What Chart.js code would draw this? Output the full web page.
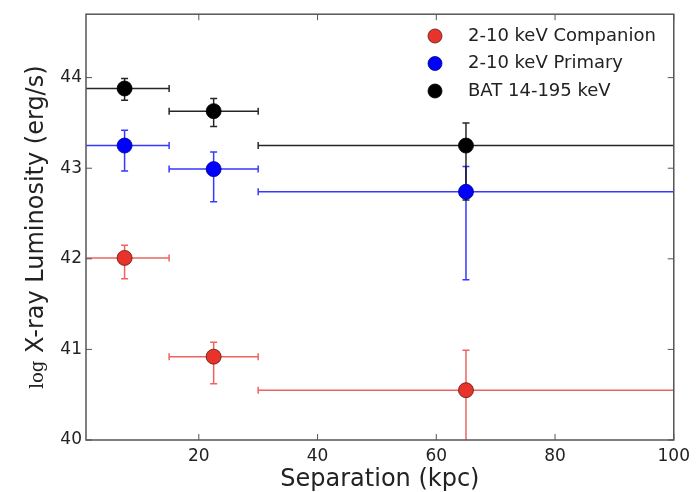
<!DOCTYPE html>
<html>
<head>
<meta charset="utf-8">
<script src="https://cdn.jsdelivr.net/npm/chart.js@4.4.0/dist/chart.umd.min.js"></script>
<style>
  html, body { margin: 0; padding: 0; background: #fff; }
  #wrap { width: 696px; height: 492px; }
</style>
</head>
<body>
<div id="wrap"><canvas id="lumChart" width="696" height="492"></canvas></div>
<script>
// Data
const xTicks = [20, 40, 60, 80, 100];
const yTicks = [40, 41, 42, 43, 44];

const separation = [7.5, 22.5, 65];
const sepLo = [0, 15, 30];
const sepHi = [15, 30, 100];

const companion = [42.01, 40.92, 40.55];
const companionLo = [41.78, 40.62, 39.0];
const companionHi = [42.15, 41.08, 40.99];

const primary = [43.25, 42.99, 42.74];
const primaryLo = [42.97, 42.63, 41.77];
const primaryHi = [43.42, 43.18, 43.02];

const bat = [43.88, 43.63, 43.25];
const batLo = [43.75, 43.46, 42.65];
const batHi = [43.99, 43.77, 43.50];

const series = [
    { label: '2-10 keV Companion', values: companion, lo: companionLo, hi: companionHi,
      fill: '#e8332a', edge: '#5a1a15', bar: 'rgba(232, 60, 55, 0.8)' },
    { label: '2-10 keV Primary', values: primary, lo: primaryLo, hi: primaryHi,
      fill: '#0000ff', edge: '#00008a', bar: 'rgba(20, 20, 255, 0.85)' },
    { label: 'BAT 14-195 keV', values: bat, lo: batLo, hi: batHi,
      fill: '#000000', edge: '#000000', bar: 'rgba(0, 0, 0, 0.85)' }
];

const FONT = "'DejaVu Sans', sans-serif";

// error bars, frame, inward ticks, legend and y title
const decorPlugin = {
    id: 'decor',
    beforeDatasetsDraw(chart) {
        const { ctx, chartArea: a, scales: { x, y } } = chart;
        ctx.save();
        ctx.beginPath();
        ctx.rect(a.left, a.top, a.right - a.left, a.bottom - a.top);
        ctx.clip();
        ctx.lineWidth = 1.5;
        const cap = 3.5;
        series.forEach(s => {
            ctx.strokeStyle = s.bar;
            separation.forEach((sx, i) => {
                const px = x.getPixelForValue(sx);
                const py = y.getPixelForValue(s.values[i]);
                const x0 = x.getPixelForValue(sepLo[i]);
                const x1 = x.getPixelForValue(sepHi[i]);
                const y0 = y.getPixelForValue(s.lo[i]);
                const y1 = y.getPixelForValue(s.hi[i]);
                ctx.beginPath();
                ctx.moveTo(x0, py); ctx.lineTo(x1, py);
                ctx.moveTo(x0, py - cap); ctx.lineTo(x0, py + cap);
                ctx.moveTo(x1, py - cap); ctx.lineTo(x1, py + cap);
                ctx.moveTo(px, y0); ctx.lineTo(px, y1);
                ctx.moveTo(px - cap, y0); ctx.lineTo(px + cap, y0);
                ctx.moveTo(px - cap, y1); ctx.lineTo(px + cap, y1);
                ctx.stroke();
            });
        });
        ctx.restore();
    },
    afterDraw(chart) {
        const { ctx, chartArea: a, scales: { x, y } } = chart;
        ctx.save();
        // frame
        ctx.strokeStyle = '#555';
        ctx.lineWidth = 1.5;
        ctx.strokeRect(a.left, a.top, a.right - a.left, a.bottom - a.top);
        // inward ticks on all sides
        ctx.lineWidth = 1;
        ctx.beginPath();
        xTicks.forEach(v => {
            const px = x.getPixelForValue(v);
            ctx.moveTo(px, a.bottom); ctx.lineTo(px, a.bottom - 6);
            ctx.moveTo(px, a.top); ctx.lineTo(px, a.top + 6);
        });
        yTicks.forEach(v => {
            const py = y.getPixelForValue(v);
            ctx.moveTo(a.left, py); ctx.lineTo(a.left + 6, py);
            ctx.moveTo(a.right, py); ctx.lineTo(a.right - 6, py);
        });
        ctx.stroke();

        // legend
        ctx.font = '18px ' + FONT;
        ctx.textBaseline = 'middle';
        series.forEach((s, i) => {
            const ly = 36 + i * 27.5;
            ctx.beginPath();
            ctx.arc(435, ly, 7, 0, Math.PI * 2);
            ctx.fillStyle = s.fill;
            ctx.fill();
            ctx.lineWidth = 0.8;
            ctx.strokeStyle = s.edge;
            ctx.stroke();
            ctx.fillStyle = '#222';
            ctx.fillText(s.label, 468, ly);
        });

        // y axis title: small serif "log" + sans text
        ctx.translate(43, (a.top + a.bottom) / 2);
        ctx.rotate(-Math.PI / 2);
        ctx.textBaseline = 'alphabetic';
        const logFont = "18px 'DejaVu Serif', serif";
        const mainFont = '24px ' + FONT;
        const mainText = ' X-ray Luminosity (erg/s)';
        ctx.font = logFont;
        const w1 = ctx.measureText('log').width;
        ctx.font = mainFont;
        const w2 = ctx.measureText(mainText).width;
        const start = -(w1 + w2) / 2;
        ctx.fillStyle = '#222';
        ctx.font = logFont;
        ctx.fillText('log', start, 0);
        ctx.font = mainFont;
        ctx.fillText(mainText, start + w1, 0);
        ctx.restore();
    }
};

const datasets = series.map(s => ({
    label: s.label,
    data: separation.map((sx, i) => ({ x: sx, y: s.values[i] })),
    backgroundColor: s.fill,
    borderColor: s.edge,
    borderWidth: 0.8,
    pointRadius: 7.5,
    pointHoverRadius: 7.5
}));

const ctx = document.getElementById('lumChart').getContext('2d');
new Chart(ctx, {
    type: 'scatter',
    data: { datasets: datasets },
    options: {
        responsive: false,
        animation: false,
        events: [],
        layout: { padding: { top: 10, right: 22, left: 0, bottom: 0 } },
        plugins: {
            legend: { display: false },
            tooltip: { enabled: false }
        },
        scales: {
            x: {
                type: 'linear',
                min: 1,
                max: 100,
                afterBuildTicks: scale => { scale.ticks = xTicks.map(v => ({ value: v })); },
                afterFit: scale => { scale.height = 52; },
                grid: { display: false, drawTicks: false },
                border: { display: false },
                ticks: { color: '#222', padding: 6, font: { family: FONT, size: 17 } },
                title: {
                    display: true,
                    text: 'Separation (kpc)',
                    color: '#222',
                    padding: { top: 0, bottom: 0 },
                    font: { family: FONT, size: 24, lineHeight: 1.0 }
                }
            },
            y: {
                type: 'linear',
                min: 40,
                max: 44.7,
                afterBuildTicks: scale => { scale.ticks = yTicks.map(v => ({ value: v })); },
                afterFit: scale => { scale.width = 86; },
                grid: { display: false, drawTicks: false },
                border: { display: false },
                ticks: { color: '#222', padding: 4, font: { family: FONT, size: 17 } }
            }
        }
    },
    plugins: [decorPlugin]
});
</script>
</body>
</html>
